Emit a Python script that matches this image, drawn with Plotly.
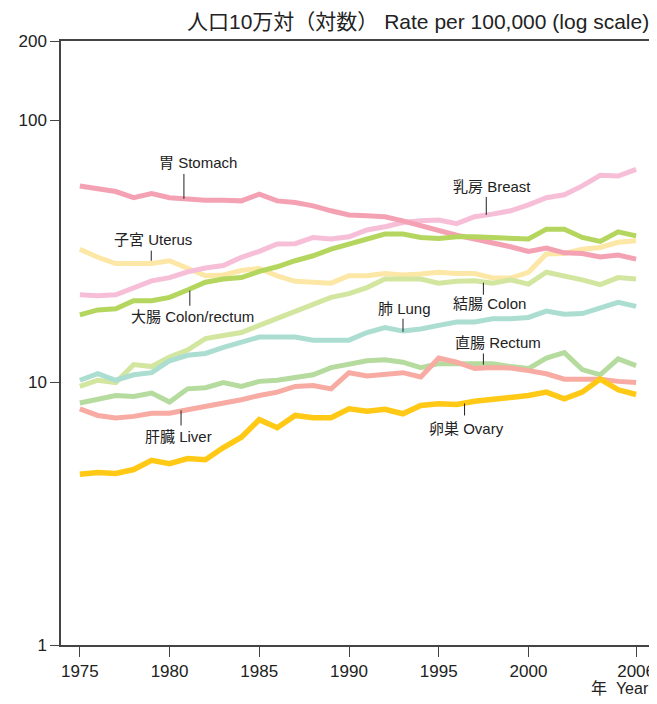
import math
import plotly.graph_objects as go

years = list(range(1975, 2007))

stomach = [56.1, 54.5, 53.4, 50.6, 52.5, 50.6, 49.9, 49.5, 49.5, 49.2, 52.2, 49.2, 48.5, 47.1, 45.1, 43.5,
           43.2, 42.8, 41.3, 39.5, 38.1, 36.4, 35.2, 34.2, 32.9, 31.6, 32.5, 31.2, 31.0, 30.1, 30.6, 29.5]
breast = [21.6, 21.4, 21.6, 23.0, 24.4, 25.1, 26.4, 27.3, 27.9, 30.0, 31.6, 33.7, 33.8, 35.7, 35.2, 35.9,
          38.1, 39.2, 40.7, 41.3, 41.6, 40.3, 42.8, 43.8, 45.1, 47.5, 50.6, 51.9, 56.1, 61.6, 61.2, 64.9]
uterus = [32.2, 30.0, 28.4, 28.4, 28.4, 29.1, 27.2, 25.5, 25.7, 26.7, 27.2, 25.5, 24.3, 24.2, 23.9, 25.5,
          25.5, 26.0, 25.7, 25.9, 26.3, 26.0, 26.0, 25.0, 25.0, 26.3, 30.9, 31.0, 32.2, 32.7, 34.2, 34.7]
colon_rectum = [18.1, 18.9, 19.1, 20.5, 20.5, 21.1, 22.5, 24.1, 24.8, 25.1, 26.5, 27.6, 29.1, 30.4, 32.2, 33.7,
                34.9, 36.8, 36.8, 35.7, 35.4, 35.9, 35.9, 35.7, 35.7, 35.2, 38.4, 38.4, 35.7, 34.5, 37.5, 36.2]
colon = [9.66, 10.2, 10.0, 11.7, 11.5, 12.5, 13.3, 14.7, 15.1, 15.5, 16.5, 17.5, 18.7, 19.9, 21.1, 21.8,
         23.0, 24.8, 24.9, 24.8, 23.9, 24.3, 24.4, 23.9, 24.6, 23.7, 26.3, 25.5, 24.6, 23.6, 25.1, 24.8]
lung = [10.2, 10.8, 10.2, 10.7, 10.9, 12.1, 12.7, 12.9, 13.6, 14.2, 14.9, 14.9, 14.9, 14.5, 14.5, 14.5,
        15.5, 16.2, 15.7, 16.0, 16.5, 17.0, 17.0, 17.5, 17.5, 17.7, 18.7, 18.2, 18.3, 19.3, 20.2, 19.5]
rectum = [8.35, 8.67, 8.92, 8.85, 9.11, 8.42, 9.46, 9.55, 10.0, 9.66, 10.1, 10.2, 10.4, 10.7, 11.4, 11.8,
          12.1, 12.2, 11.95, 11.4, 11.8, 11.8, 11.8, 11.8, 11.5, 11.3, 12.4, 13.0, 11.2, 10.7, 12.3, 11.6]
liver = [7.94, 7.49, 7.32, 7.43, 7.64, 7.64, 7.87, 8.11, 8.30, 8.60, 8.92, 9.19, 9.66, 9.74, 9.46, 10.9,
         10.6, 10.8, 10.9, 10.5, 12.4, 11.95, 11.3, 11.4, 11.35, 11.1, 10.8, 10.3, 10.3, 10.3, 10.1, 10.0]
ovary = [4.47, 4.54, 4.50, 4.66, 5.05, 4.91, 5.13, 5.08, 5.65, 6.19, 7.22, 6.73, 7.49, 7.34, 7.34, 7.94,
         7.78, 7.90, 7.60, 8.18, 8.30, 8.25, 8.49, 8.62, 8.79, 8.92, 9.19, 8.67, 9.19, 10.3, 9.38, 9.00]

y_tickvals = [1, 10, 100, 200]
x_tickvals = [1975, 1980, 1985, 1990, 1995, 2000, 2006]

series = [
    ("子宮 Uterus", uterus, "#FDE7A6", 5),
    ("乳房 Breast", breast, "#F7BFD7", 5),
    ("胃 Stomach", stomach, "#F4A2B3", 5),
    ("結腸 Colon", colon, "#D2E6A0", 5),
    ("大腸 Colon/rectum", colon_rectum, "#B4D65E", 5),
    ("肺 Lung", lung, "#ABDED1", 5),
    ("直腸 Rectum", rectum, "#B6DB9E", 5),
    ("肝臓 Liver", liver, "#F7ABA3", 5),
    ("卵巣 Ovary", ovary, "#FFC916", 5.5),
]

# label: text, text centre (year, value), leader line (year, value top, value bottom)
labels = [
    ("胃 Stomach", 1981.57, 68.6, 1980.8, 62.3, 50.1),
    ("子宮 Uterus", 1979.09, 35.0, 1978.98, 31.8, 29.1),
    ("大腸 Colon/rectum", 1981.30, 17.8, 1981.13, 22.4, 19.6),
    ("乳房 Breast", 1997.98, 55.6, 1997.65, 50.9, 43.5),
    ("結腸 Colon", 1997.82, 20.0, 1997.49, 24.0, 21.6),
    ("肺 Lung", 1993.12, 19.1, 1993.01, 17.5, 15.6),
    ("直腸 Rectum", 1998.31, 14.2, 1997.49, 12.9, 11.7),
    ("卵巣 Ovary", 1996.55, 6.68, 1996.44, 8.32, 7.49),
    ("肝臓 Liver", 1980.47, 6.23, 1980.64, 7.83, 6.86),
]

FONT = "Liberation Sans, Noto Sans CJK JP, sans-serif"

fig = go.Figure()
for name, vals, color, w in series:
    fig.add_trace(go.Scatter(x=years, y=vals, mode="lines", name=name,
                             line=dict(color=color, width=w), showlegend=False,
                             hoverinfo="skip"))

for text, tx, tv, lx, lv1, lv2 in labels:
    fig.add_annotation(x=tx, y=math.log10(tv), xref="x", yref="y", text=text,
                       showarrow=False, font=dict(family=FONT, size=15, color="#222"))
    fig.add_shape(type="line", xref="x", yref="y", x0=lx, x1=lx, y0=lv1, y1=lv2,
                  line=dict(color="#222", width=1))

fig.add_annotation(x=1.0, y=1.0315, xref="paper", yref="paper", xanchor="right", yanchor="middle",
                   text="人口10万対（対数） Rate per 100,000 (log scale)", showarrow=False,
                   font=dict(family=FONT, size=21, color="#222"))
fig.add_annotation(x=1.0, y=-0.0712, xref="paper", yref="paper", xanchor="right", yanchor="middle",
                   text="年  Year", showarrow=False,
                   font=dict(family=FONT, size=16, color="#222"))

fig.update_xaxes(range=[1973.95, 2006.83], tickvals=x_tickvals, ticks="outside", ticklen=10,
                 tickcolor="#444", showline=True, linecolor="#444", linewidth=1.5, mirror=True,
                 showgrid=False, zeroline=False, tickfont=dict(family=FONT, size=17, color="#222"))
fig.update_yaxes(type="log", range=[0, math.log10(200)], tickvals=y_tickvals,
                 ticktext=[str(v) for v in y_tickvals], ticks="outside", ticklen=9,
                 tickcolor="#444", showline=True, linecolor="#444", linewidth=1.5, mirror=True,
                 showgrid=False, zeroline=False, tickfont=dict(family=FONT, size=17, color="#222"))

fig.update_layout(width=649, height=688, margin=dict(l=53, r=2, t=33, b=51),
                  plot_bgcolor="white", paper_bgcolor="white")

fig.write_html("out.html")
